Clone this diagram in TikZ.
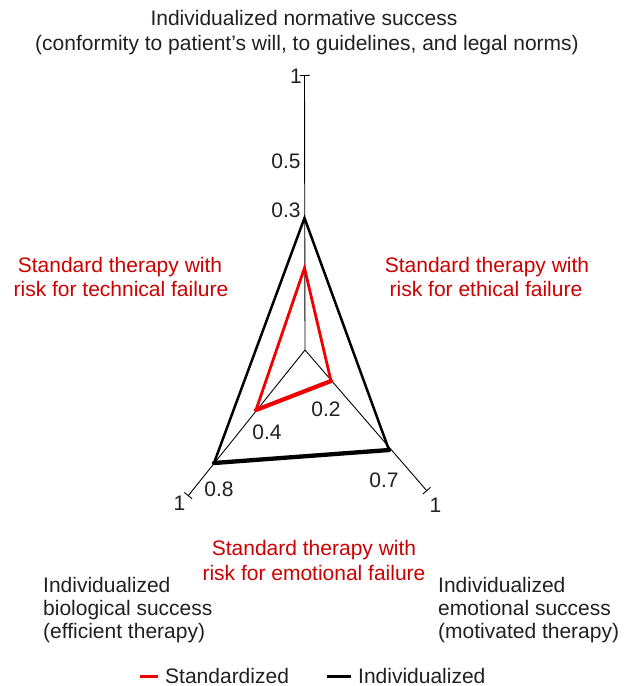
\documentclass[tikz,border=0pt]{standalone}
\usepackage{fontspec}
\setmainfont{Liberation Sans}
\usetikzlibrary{arrows.meta}
\definecolor{txt}{RGB}{35,31,32}
\definecolor{redtxt}{RGB}{204,0,0}
\definecolor{redline}{RGB}{240,0,0}
\begin{document}
\begin{tikzpicture}[x=1pt,y=-1pt,
  lbl/.style={font=\fontsize{21}{25}\selectfont, text=txt, inner sep=0pt, anchor=base},
  lblw/.style={lbl, anchor=base west},
  rlbl/.style={lbl, text=redtxt},
  axisline/.style={line width=0.9pt, draw=black, -{Bar[width=10pt]}},
  indside/.style={line width=2.5pt, draw=black, line join=miter},
  indbase/.style={line width=4.3pt, draw=black, line cap=round},
  stdside/.style={line width=2.8pt, draw=redline, line join=miter},
  stdbase/.style={line width=4.2pt, draw=redline, line cap=round},
]
\useasboundingbox (0,0) rectangle (630,686);
% axes
\coordinate (c) at (305,350);
\coordinate (top) at (304.5,75);
\coordinate (ll) at (188,496);
\coordinate (lr) at (427,491);
\draw[axisline] (c) -- (top);
\draw[axisline] (c) -- (ll);
\draw[axisline] (c) -- (lr);
% individualized triangle
\coordinate (it) at (304.5,218);
\coordinate (il) at (214,463);
\coordinate (ir) at (389,450);
\draw[indside] (il) -- (it) -- (ir);
\draw[indbase] (il) -- (ir);
% standardized triangle
\coordinate (st) at (304.5,268);
\coordinate (sl) at (256,410);
\coordinate (sr) at (331,381);
\draw[stdside] (sl) -- (st) -- (sr);
\draw[stdbase] (sl) -- (sr);
% title
\node[lbl] (t1) at (304,25) {Individualized normative success};
\node[lbl] (t2) at (307,50) {(conformity to patient’s will, to guidelines, and legal norms)};
% axis numbers
\node[lbl] (n1) at (296,83) {1};
\node[lbl] (n05) at (286,168) {0.5};
\node[lbl] (n03) at (286,217) {0.3};
\node[lbl] (n02) at (326,416) {0.2};
\node[lbl] (n04) at (267,439) {0.4};
\node[lbl] (n08) at (219,496) {0.8};
\node[lbl] (n07) at (384,487) {0.7};
\node[lbl] (n1l) at (179.5,510) {1};
\node[lbl] (n1r) at (435.5,512) {1};
% red annotations
\node[rlbl] (tech1) at (120,272) {Standard therapy with};
\node[rlbl] (tech2) at (121,296) {risk for technical failure};
\node[rlbl] (eth1) at (487,272) {Standard therapy with};
\node[rlbl] (eth2) at (486,296) {risk for ethical failure};
\node[rlbl] (emo1) at (314,555) {Standard therapy with};
\node[rlbl] (emo2) at (314,580) {risk for emotional failure};
% corner labels
\node[lblw] (b1) at (43,592) {Individualized};
\node[lblw] (b2) at (43,615) {biological success};
\node[lblw] (b3) at (43,638) {(efficient therapy)};
\node[lblw] (e1) at (438,592) {Individualized};
\node[lblw] (e2) at (438,615) {emotional success};
\node[lblw] (e3) at (438,638) {(motivated therapy)};
% legend
\coordinate (lg1a) at (140,676.5);
\coordinate (lg1b) at (158,676.5);
\draw[line width=2.6pt, draw=redline] (lg1a) -- (lg1b);
\node[lblw] (lgs) at (165,683) {Standardized};
\coordinate (lg2a) at (327,676.5);
\coordinate (lg2b) at (351,676.5);
\draw[line width=2.6pt, draw=black] (lg2a) -- (lg2b);
\node[lblw] (lgi) at (358,683) {Individualized};
\end{tikzpicture}
\end{document}
